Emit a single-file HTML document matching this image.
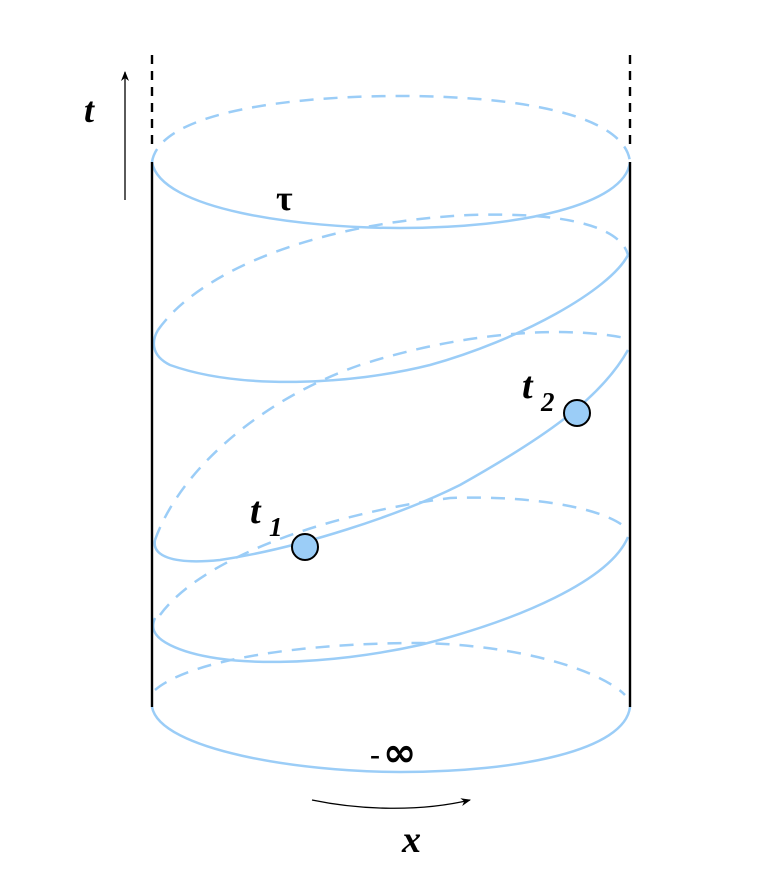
<!DOCTYPE html>
<html><head><style>body{margin:0;background:#fff}svg{display:block}</style></head><body>
<svg width="768" height="880" viewBox="0 0 768 880" xmlns="http://www.w3.org/2000/svg">
<defs><marker id="a" markerWidth="10" markerHeight="8" refX="9" refY="4" orient="auto" markerUnits="userSpaceOnUse"><path d="M0,0 L10,4 L0,8 L3,4z" fill="#000"/></marker></defs>
<g fill="none" stroke="#9bcdf7" stroke-width="2.5">
<path d="M152,162 C160,210 300,228 400,228 C520,228 625,205 630,162"/>
<path d="M152,162 C160,110 300,96 400,96 C520,96 625,115 630,162" stroke-dasharray="14,10"/>
<path d="M628,255 C610,290 520,340 430,365 C350,385 240,390 170,365 C150,355 152,340 158,330"/>
<path d="M158,330 C200,270 320,222 470,215 C560,212 620,225 628,255" stroke-dasharray="14,10"/>
<path d="M628,350 C600,400 540,440 460,485 C400,515 300,548 220,560 C170,565 152,555 155,540"/>
<path d="M155,540 C180,470 260,400 360,365 C460,333 560,325 625,338" stroke-dasharray="14,10"/>
<path d="M628,537 C610,580 520,620 420,645 C330,665 220,670 170,645 C150,635 152,625 155,618"/>
<path d="M160,615 C200,560 320,515 450,498 C540,495 610,510 628,530" stroke-dasharray="14,10"/>
<path d="M152,707 C160,750 300,772 400,772 C520,772 625,750 630,707"/>
<path d="M155,690 C190,660 300,643 420,643 C520,645 600,670 625,695" stroke-dasharray="14,10"/>
</g>
<g stroke="#000" stroke-width="2.4">
<line x1="152" y1="162" x2="152" y2="707"/><line x1="630" y1="162" x2="630" y2="707"/>
<line x1="152" y1="55" x2="152" y2="150" stroke-dasharray="9,7"/><line x1="630" y1="55" x2="630" y2="150" stroke-dasharray="9,7"/>
</g>
<line x1="125" y1="200" x2="125" y2="72" stroke="#000" stroke-width="1.3" marker-end="url(#a)"/>
<path d="M312,800 C360,810 420,812 470,800" fill="none" stroke="#000" stroke-width="1.3" marker-end="url(#a)"/>
<circle cx="577" cy="413" r="13" fill="#9bcdf7" stroke="#000" stroke-width="2"/>
<circle cx="305" cy="547" r="13" fill="#9bcdf7" stroke="#000" stroke-width="2"/>
<g font-family="Liberation Serif, serif" font-weight="bold" font-style="italic" fill="#000">
<text x="84" y="122" font-size="36">t</text>
<text x="522" y="398" font-size="38">t</text><text x="541" y="411" font-size="27">2</text>
<text x="250" y="523" font-size="38">t</text><text x="269" y="536" font-size="27">1</text>
<text x="402" y="852" font-size="38">x</text>
</g>
<text x="276" y="210" font-family="Liberation Serif, serif" font-weight="bold" font-size="36">τ</text>
<text x="370" y="764" font-family="Liberation Serif, serif" font-weight="bold" font-size="30">-</text>
<text x="383" y="766" font-family="DejaVu Sans, sans-serif" font-weight="bold" font-size="40">∞</text>
</svg>
</body></html>
